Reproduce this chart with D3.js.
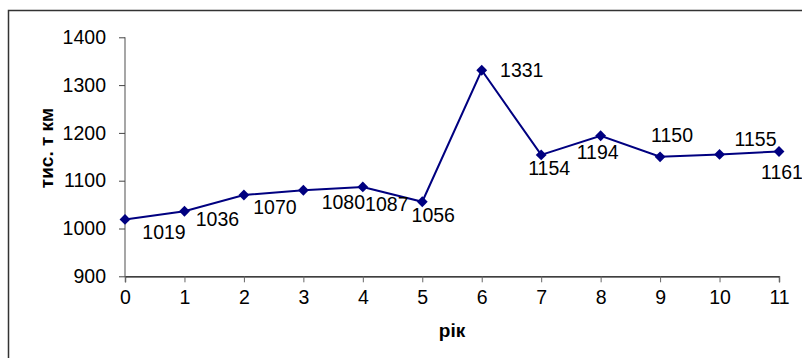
<!DOCTYPE html>
<html><head><meta charset="utf-8">
<script src="https://cdn.jsdelivr.net/npm/d3@7"></script>
<style>body{margin:0;background:#fff}svg{display:block}text{font-family:"Liberation Sans",Arial,sans-serif}</style>
</head><body><svg id="c" width="802" height="358"></svg>
<script>
const years = [0,1,2,3,4,5,6,7,8,9,10,11];
const values = [1019,1036,1070,1080,1087,1056,1331,1154,1194,1150,1155,1161];
const yTicks = [900,1000,1100,1200,1300,1400];
const xLabel = "рік";
const yLabel = "тис. т км";

// label offsets (layout, not data)
const labelOffsets = [[39,13],[33,8],[31,12],[40,12],[24,17],[11,13],[40,0],[8,13],[-3,16],[12,-22],[36,-15],[3,20]];

const svg = d3.select("#c");
const x = d3.scaleLinear().domain([0,11]).range([125,779]);
const y = d3.scaleLinear().domain([900,1400]).range([276.3,37.3]);

svg.append("rect").attr("x",8.5).attr("y",10.5).attr("width",900).attr("height",400)
  .attr("fill","none").attr("stroke","#333").attr("stroke-width",1.5);

const xa = svg.append("g").attr("transform","translate(0,276.3)")
  .call(d3.axisBottom(x).tickValues(years).tickSize(6).tickPadding(8).tickFormat(d3.format("d")));
xa.select(".domain").attr("stroke","#000").attr("stroke-width",1.3);
xa.selectAll(".tick line").attr("stroke","#666");
xa.selectAll("text").attr("font-size",19.5).attr("fill","#000").attr("font-family","Liberation Sans, Arial, sans-serif");

const ya = svg.append("g").attr("transform","translate(125,0)")
  .call(d3.axisLeft(y).tickValues(yTicks).tickSize(6).tickPadding(13).tickFormat(d3.format("d")));
ya.select(".domain").attr("stroke","#777").attr("stroke-width",1.3).attr("d","M0,37.3V276.3");
ya.selectAll(".tick line").attr("stroke","#444");
ya.selectAll("text").attr("font-size",19.5).attr("fill","#000").attr("font-family","Liberation Sans, Arial, sans-serif");
xa.raise();

svg.append("path").datum(values)
  .attr("d", d3.line().x((d,i)=>x(years[i])).y(d=>y(d)))
  .attr("fill","none").attr("stroke","#000080").attr("stroke-width",2);

svg.selectAll(".m").data(values).enter().append("path")
  .attr("d", d3.symbol().type(d3.symbolDiamond2).size(75))
  .attr("transform",(d,i)=>`translate(${x(years[i])},${y(d)})`)
  .attr("fill","#000080");

svg.selectAll(".lbl").data(values).enter().append("text")
  .attr("x",(d,i)=>x(years[i])+labelOffsets[i][0])
  .attr("y",(d,i)=>y(d)+labelOffsets[i][1])
  .attr("text-anchor","middle").attr("dominant-baseline","central")
  .attr("font-size",19.5).attr("fill","#000").text(d=>d);

svg.append("text").attr("x",452).attr("y",330).attr("text-anchor","middle")
  .attr("dominant-baseline","central").attr("font-size",19).attr("font-weight","bold").text(xLabel);

svg.append("text").attr("transform","translate(46,148) rotate(-90)").attr("text-anchor","middle")
  .attr("dominant-baseline","central").attr("font-size",19).attr("font-weight","bold").text(yLabel);
</script></body></html>
